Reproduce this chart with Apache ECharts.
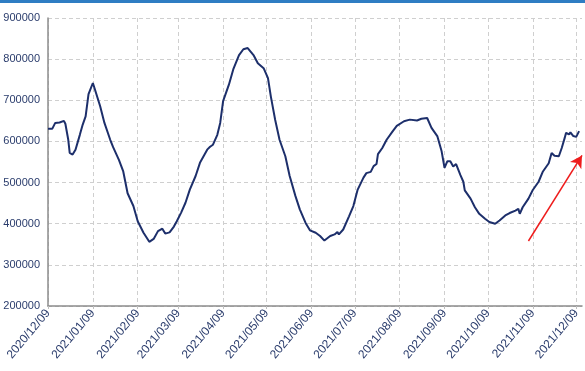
<!DOCTYPE html>
<html>
<head>
<meta charset="utf-8">
<script src="https://cdn.jsdelivr.net/npm/echarts@6/dist/echarts.min.js"></script>
<style>
html,body{margin:0;padding:0;background:#fff;}
#c{width:585px;height:371px;}
</style>
</head>
<body>
<div id="c"></div>
<script>
var dates = ['2020-12-09','2020-12-12','2020-12-14','2020-12-17','2020-12-20','2020-12-21','2020-12-23','2020-12-24','2020-12-26','2020-12-28','2020-12-31',
'2021-01-02','2021-01-04','2021-01-06','2021-01-09','2021-01-10','2021-01-14','2021-01-17','2021-01-21','2021-01-23','2021-01-27','2021-01-30',
'2021-02-02','2021-02-06','2021-02-09','2021-02-13','2021-02-17','2021-02-20','2021-02-23','2021-02-26','2021-02-28',
'2021-03-03','2021-03-06','2021-03-08','2021-03-11','2021-03-14','2021-03-17','2021-03-21','2021-03-24','2021-03-29','2021-03-31',
'2021-04-02','2021-04-05','2021-04-07','2021-04-09','2021-04-13','2021-04-16','2021-04-20','2021-04-23','2021-04-26','2021-04-30',
'2021-05-03','2021-05-07','2021-05-10','2021-05-12','2021-05-15','2021-05-18','2021-05-22','2021-05-25','2021-05-29',
'2021-06-01','2021-06-05','2021-06-08','2021-06-12','2021-06-15','2021-06-18','2021-06-22','2021-06-25','2021-06-27','2021-06-28',
'2021-07-01','2021-07-05','2021-07-08','2021-07-11','2021-07-15','2021-07-17','2021-07-20','2021-07-22','2021-07-24','2021-07-25','2021-07-28','2021-07-31',
'2021-08-04','2021-08-07','2021-08-12','2021-08-16','2021-08-21','2021-08-24','2021-08-28','2021-08-31',
'2021-09-04','2021-09-07','2021-09-09','2021-09-11','2021-09-13','2021-09-15','2021-09-17','2021-09-20','2021-09-22','2021-09-23','2021-09-27','2021-09-30',
'2021-10-03','2021-10-07','2021-10-10','2021-10-14','2021-10-17','2021-10-21','2021-10-24','2021-10-28','2021-10-30','2021-10-31',
'2021-11-02','2021-11-06','2021-11-09','2021-11-13','2021-11-16','2021-11-20','2021-11-22','2021-11-24','2021-11-27','2021-11-29',
'2021-12-01','2021-12-02','2021-12-04','2021-12-05','2021-12-07','2021-12-09','2021-12-11'];
var values = [631000,631000,645000,646000,650000,643000,604000,572000,568000,580000,616000,
641000,661000,715000,742000,731000,686000,645000,604000,586000,555000,527000,
474000,443000,406000,378000,356000,363000,382000,388000,376000,
379000,393000,406000,427000,451000,483000,516000,548000,580000,587000,
592000,616000,645000,698000,738000,775000,810000,824000,827000,810000,
790000,778000,754000,709000,652000,604000,564000,516000,467000,
435000,402000,384000,378000,370000,359000,370000,374000,380000,374000,
386000,418000,443000,483000,512000,523000,526000,540000,545000,569000,584000,604000,
624000,638000,649000,653000,651000,655000,657000,633000,
613000,576000,536000,552000,552000,539000,545000,518000,502000,481000,461000,440000,
424000,412000,404000,400000,408000,420000,426000,432000,436000,424000,
440000,461000,482000,502000,527000,547000,572000,565000,564000,584000,
608000,621000,617000,622000,613000,611000,625000];
var tickLabels = ['2020/12/09','2021/01/09','2021/02/09','2021/03/09','2021/04/09','2021/05/09','2021/06/09',
'2021/07/09','2021/08/09','2021/09/09','2021/10/09','2021/11/09','2021/12/09'];
var yTicks = [200000,300000,400000,500000,600000,700000,800000,900000];
var xStart = '2020-12-09';
var xEnd = '2021-12-13';
var arrowFrom = ['2021-11-06', 358000];
var arrowTo = ['2021-12-13', 566000];

function dayOf(s){
  var p = s.split(/[-\/]/);
  var q = xStart.split('-');
  return Math.round((Date.UTC(+p[0], +p[1]-1, +p[2]) - Date.UTC(+q[0], +q[1]-1, +q[2])) / 86400000);
}
var tickVals = tickLabels.map(dayOf);
var labelByDay = {};
tickLabels.forEach(function(l){ labelByDay[dayOf(l)] = l; });
var data = dates.map(function(d,i){ return [dayOf(d), values[i]]; });
var labelColor = '#2a3c6c';

var chart = echarts.init(document.getElementById('c'), null, {renderer:'canvas'});
chart.setOption({
  animation:false,
  backgroundColor:'#fff',
  graphic:[{type:'rect', left:0, top:0, shape:{width:585, height:3}, style:{fill:'#2f7dc3'}}],
  grid:{left:48, right:3, top:18, bottom:65, containLabel:false},
  xAxis:{
    type:'value',
    min: 0,
    max: dayOf(xEnd),
    axisLine:{show:true, lineStyle:{color:'#8c8c8c', width:1.5}},
    axisTick:{show:true, customValues: tickVals, length:3, lineStyle:{color:'#bfbfbf'}},
    axisLabel:{customValues: tickVals, rotate:50, color:labelColor, fontSize:12, fontFamily:'Liberation Sans, Arial, sans-serif', margin:5,
      formatter:function(v){ return labelByDay[Math.round(v)] || ''; }, hideOverlap:false},
    splitLine:{show:true, lineStyle:{color:'#cfcfcf', type:[4,3], width:1}}
  },
  yAxis:{
    type:'value',
    min:yTicks[0], max:yTicks[yTicks.length-1], interval:100000,
    axisLine:{show:true, lineStyle:{color:'#8c8c8c', width:1.5}},
    axisTick:{show:false},
    axisLabel:{color:labelColor, fontSize:11, fontFamily:'Liberation Sans, Arial, sans-serif', margin:8,
      formatter:function(v){ return String(v); }},
    splitLine:{show:true, lineStyle:{color:'#cfcfcf', type:[4,3], width:1}}
  },
  series:[{
    type:'line',
    data:data,
    showSymbol:false,
    smooth:false,
    clip:false,
    lineStyle:{color:'#1d2f6b', width:2},
    markLine:{
      silent:true,
      symbol:['none','arrow'],
      symbolSize:[10,12],
      label:{show:false},
      lineStyle:{color:'#ee1c1c', width:1.5, type:'solid'},
      data:[[{coord:[dayOf(arrowFrom[0]), arrowFrom[1]]},{coord:[dayOf(arrowTo[0]), arrowTo[1]]}]]
    }
  }]
});
</script>
</body>
</html>
